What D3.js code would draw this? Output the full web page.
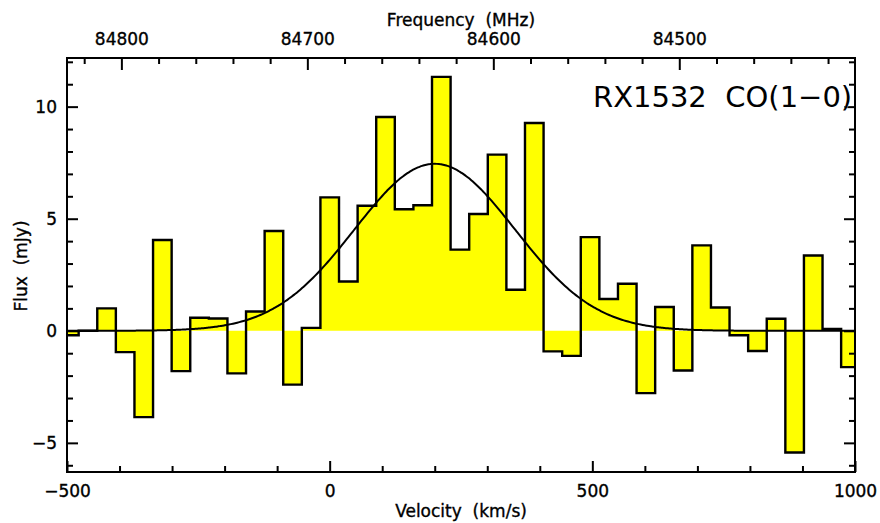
<!DOCTYPE html>
<html>
<head>
<meta charset="utf-8">
<script src="https://cdn.jsdelivr.net/npm/d3@7/dist/d3.min.js"></script>
<style>
  html, body { margin: 0; padding: 0; background: #fff; }
  svg text { font-family: "DejaVu Sans", sans-serif; fill: #000; }
  .lbl { stroke: #000; stroke-width: 0.35px; }
</style>
</head>
<body>
<div id="chart"></div>
<script>
// --- spectrum: RX1532 CO(1-0), 10 MHz channels ---
const CHAN_WIDTH = 35.4;          // km/s
const FIRST_CENTER = -495.5;      // km/s, centre of first channel
const flux = [
  -0.2, 0.0, 1.0, -0.95, -3.85, 4.05, -1.8, 0.58, 0.55, -1.9,
  0.86, 4.45, -2.4, 0.13, 5.95, 2.2, 5.58, 9.54, 5.42, 5.6,
  11.33, 3.62, 5.21, 7.86, 1.83, 9.27, -0.92, -1.12, 4.18, 1.42,
  2.1, -2.78, 1.06, -1.77, 3.81, 1.04, -0.2, -0.9, 0.54, -5.43,
  3.36, 0.08, -1.62
];

// gaussian fit
const FIT_AMP = 7.45, FIT_CENTER = 200, FIT_FWHM = 360;

const VEL_DOMAIN = [-500, 1000];
const FLUX_DOMAIN = [-6.3, 12.17];
const velMajor = [-500, 0, 500, 1000];
const fluxMajor = [-5, 0, 5, 10];
const freqMajor = [84800, 84700, 84600, 84500];
const F0 = 84688;                 // MHz, line frequency at v = 0
const C_KMS = 299792.458;

const W = 880, H = 523;
const L = 67, R = 855, T = 58, B = 472;

const svg = d3.select('#chart').append('svg')
  .attr('width', W).attr('height', H);

const x = d3.scaleLinear().domain(VEL_DOMAIN).range([L, R]);
const y = d3.scaleLinear().domain(FLUX_DOMAIN).range([B, T]);
const velToFreq = v => F0 * (1 - v / C_KMS);
const xf = d3.scaleLinear().domain(VEL_DOMAIN.map(velToFreq)).range([L, R]);

svg.append('clipPath').attr('id', 'plotclip')
  .append('rect').attr('x', L).attr('y', T).attr('width', R - L).attr('height', B - T);

// histogram points (each channel = flat segment)
const pts = [];
flux.forEach((f, i) => {
  const c = FIRST_CENTER + i * CHAN_WIDTH;
  const lo = Math.max(c - CHAN_WIDTH / 2, VEL_DOMAIN[0]);
  const hi = Math.min(c + CHAN_WIDTH / 2, VEL_DOMAIN[1]);
  pts.push({ v: lo, f }, { v: hi, f });
});

const g = svg.append('g').attr('clip-path', 'url(#plotclip)');

g.append('path')
  .datum(pts)
  .attr('fill', '#ffff00')
  .attr('d', d3.area().x(d => x(d.v)).y0(y(0)).y1(d => y(d.f)));

g.append('path')
  .datum(pts)
  .attr('fill', 'none')
  .attr('stroke', '#000')
  .attr('stroke-width', 2.4)
  .attr('stroke-linejoin', 'miter')
  .attr('d', d3.line().x(d => x(d.v)).y(d => y(d.f)));

// gaussian fit curve
const sigma = FIT_FWHM / (2 * Math.sqrt(2 * Math.log(2)));
const fitPts = d3.range(VEL_DOMAIN[0], VEL_DOMAIN[1] + 1, 4)
  .map(v => ({ v, f: FIT_AMP * Math.exp(-((v - FIT_CENTER) ** 2) / (2 * sigma * sigma)) }));
g.append('path')
  .datum(fitPts)
  .attr('fill', 'none')
  .attr('stroke', '#000')
  .attr('stroke-width', 2)
  .attr('d', d3.line().x(d => x(d.v)).y(d => y(d.f)).curve(d3.curveBasis));

// --- axes: ticks point inward ---
function styleAxis(sel) {
  sel.select('.domain').remove();
  sel.selectAll('.tick line').attr('stroke', '#000').attr('stroke-width', 2);
  sel.selectAll('.tick text').attr('font-size', 17).attr('class', 'lbl')
    .attr('font-family', '"DejaVu Sans", sans-serif');
}

// bottom
svg.append('g').attr('transform', `translate(0,${B})`)
  .call(d3.axisBottom(x).tickValues(d3.range(-400, 1000, 100).filter(v => v % 500)).tickSize(-6).tickFormat(''))
  .call(styleAxis);
svg.append('g').attr('transform', `translate(0,${B})`)
  .call(d3.axisBottom(x).tickValues(velMajor).tickSize(-11).tickPadding(13).tickFormat(d3.format('d')))
  .call(styleAxis);

// top (frequency)
svg.append('g').attr('transform', `translate(0,${T})`)
  .call(d3.axisTop(xf).tickValues(d3.range(84820, 84400, -20).filter(f => f % 100)).tickSize(-6).tickFormat(''))
  .call(styleAxis);
svg.append('g').attr('transform', `translate(0,${T})`)
  .call(d3.axisTop(xf).tickValues(freqMajor).tickSize(-12).tickPadding(13).tickFormat(d3.format('d')))
  .call(styleAxis);

// left
svg.append('g').attr('transform', `translate(${L},0)`)
  .call(d3.axisLeft(y).tickValues(d3.range(-6, 13, 1).filter(v => v % 5)).tickSize(-6).tickFormat(''))
  .call(styleAxis);
svg.append('g').attr('transform', `translate(${L},0)`)
  .call(d3.axisLeft(y).tickValues(fluxMajor).tickSize(-11).tickPadding(10).tickFormat(d3.format('d')))
  .call(styleAxis);

// right
svg.append('g').attr('transform', `translate(${R},0)`)
  .call(d3.axisRight(y).tickValues(d3.range(-6, 13, 1).filter(v => v % 5)).tickSize(-6).tickFormat(''))
  .call(styleAxis);
svg.append('g').attr('transform', `translate(${R},0)`)
  .call(d3.axisRight(y).tickValues(fluxMajor).tickSize(-11).tickFormat(''))
  .call(styleAxis);

// frame
svg.append('rect')
  .attr('x', L).attr('y', T).attr('width', R - L).attr('height', B - T)
  .attr('fill', 'none').attr('stroke', '#000').attr('stroke-width', 2);

// labels
svg.append('text')
  .attr('class', 'lbl')
  .attr('x', (L + R) / 2).attr('y', 26)
  .attr('text-anchor', 'middle').attr('font-size', 17)
  .style('white-space', 'pre')
  .text('Frequency  (MHz)');

svg.append('text')
  .attr('class', 'lbl')
  .attr('x', (L + R) / 2).attr('y', 517)
  .attr('text-anchor', 'middle').attr('font-size', 17)
  .style('white-space', 'pre')
  .text('Velocity  (km/s)');

svg.append('text')
  .attr('class', 'lbl')
  .attr('transform', `translate(27,${(T + B) / 2 + 1}) rotate(-90)`)
  .attr('text-anchor', 'middle').attr('font-size', 17)
  .style('white-space', 'pre')
  .text('Flux  (mJy)');

svg.append('text')
  .attr('x', 593).attr('y', 107)
  .attr('font-size', 29)
  .style('white-space', 'pre')
  .style('stroke', '#fff').style('stroke-width', '0.6px').style('paint-order', 'stroke')
  .text('RX1532  CO(1\u22120)');
</script>
</body>
</html>
